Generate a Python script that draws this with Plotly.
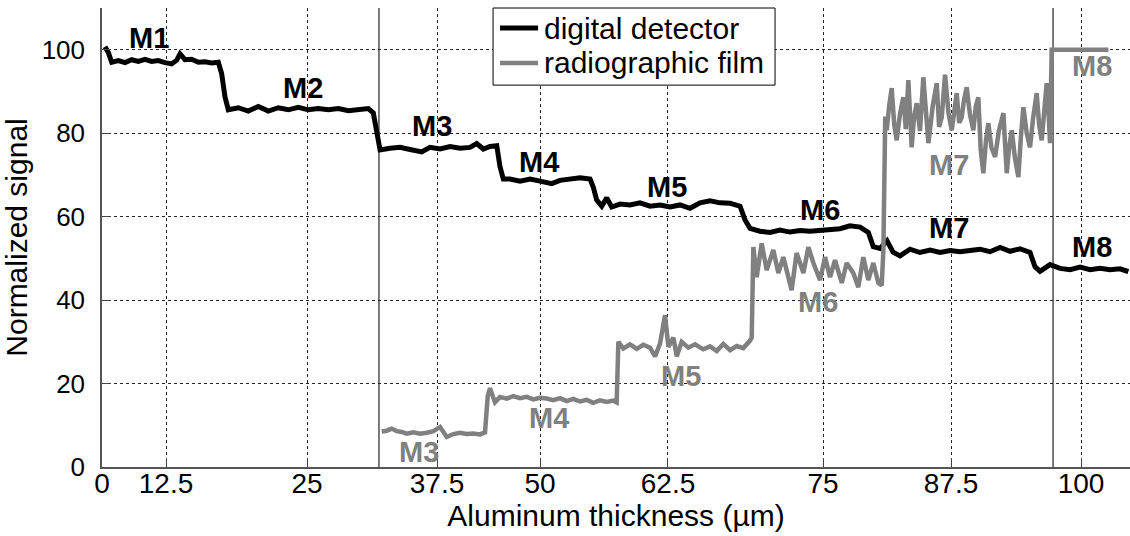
import plotly.graph_objects as go

# ---- data (x in plot units, y normalized signal) ----
det_x = [0.31,0.65,0.99,1.67,2.35,3.03,3.71,4.39,5.07,5.75,6.44,7.12,7.63,7.97,8.48,9.16,9.84,10.52,11.21,11.88,
         12.22,12.56,12.90,13.92,14.94,15.96,16.99,18.01,19.03,20.05,21.07,22.09,23.12,24.14,25.16,26.18,27.20,27.71,
         28.06,28.40,29.42,30.44,31.46,32.65,33.50,34.53,35.55,36.57,37.59,38.27,38.95,39.63,40.32,40.65,40.99,41.67,
         42.70,43.72,44.74,45.93,46.78,47.80,48.83,49.85,50.19,50.52,51.04,51.55,52.06,52.91,53.93,54.95,55.98,57.00,
         58.02,59.04,60.06,61.08,62.10,63.13,64.15,65.17,65.68,66.19,67.21,68.23,69.25,70.28,71.30,72.32,73.34,74.36,
         75.38,76.40,77.43,78.27,78.78,79.47,80.18,80.80,81.51,82.53,83.55,84.58,85.60,86.62,87.64,88.66,89.68,90.70,
         91.73,92.75,93.77,94.79,95.30,95.81,96.83,97.85,98.88,99.90,100.92,101.94,102.96,103.98,104.83]
det_y = [100.7,99.3,97.0,97.4,96.9,97.6,97.2,97.7,97.2,97.4,96.9,96.6,97.5,99.0,97.6,97.7,97.0,97.1,96.8,97.0,
         94.3,88.7,85.6,86.1,85.3,86.4,85.3,86.1,85.6,86.2,85.6,85.9,85.6,85.9,85.4,85.6,85.9,84.9,
         80.7,76.0,76.4,76.6,76.1,75.5,76.6,76.2,76.8,76.4,76.6,77.5,76.2,76.8,77.0,72.0,69.0,69.0,
         68.5,69.0,68.5,67.9,68.7,69.0,69.3,69.0,67.0,64.0,62.5,64.5,62.3,63.0,62.8,63.3,62.5,62.8,
         62.3,62.8,62.0,63.3,63.8,63.3,63.2,62.5,59.2,57.2,56.5,56.2,56.8,56.3,56.7,56.5,56.8,56.8,
         57.1,57.8,57.5,56.2,52.8,52.4,54.2,51.5,50.6,52.2,51.4,52.0,51.4,51.9,51.6,51.9,52.2,51.6,
         52.6,51.7,52.3,51.4,48.0,46.9,48.5,47.6,47.3,47.9,47.3,47.6,47.3,47.5,46.8]

film_x = [28.57,29.08,29.59,30.10,30.61,31.12,31.80,32.48,33.17,33.84,34.53,35.21,35.88,36.57,37.25,37.93,38.61,39.12,
          39.40,39.63,40.14,40.65,41.34,42.01,42.70,43.38,44.06,44.74,45.42,46.10,46.78,47.47,48.14,48.83,49.51,50.18,
          50.87,51.55,52.23,52.57,52.74,53.25,53.93,54.62,55.29,55.98,56.49,57.00,57.51,57.85,58.36,58.70,59.21,59.89,
          60.57,61.42,62.10,62.79,63.46,64.15,64.83,65.51,66.19,66.36,66.53,66.87,67.38,67.89,68.57,69.08,69.59,70.44,
          70.95,71.64,72.15,72.66,73.34,73.85,74.36,74.87,75.56,76.06,76.74,77.25,77.76,78.27,78.78,79.30,79.64,79.81,
          80.00,80.15,80.40,80.66,80.92,81.17,81.50,81.85,82.10,82.36,82.70,82.95,83.22,83.55,83.89,84.15,84.41,84.85,
          85.26,85.50,85.77,86.11,86.45,86.79,87.05,87.30,87.55,87.81,88.05,88.32,88.65,89.00,89.25,89.51,89.75,90.02,
          90.30,90.53,90.85,91.22,91.60,92.07,92.25,92.41,92.65,92.92,93.25,93.60,93.85,94.11,94.45,94.79,95.10,95.47,
          95.72,95.98,96.25,96.49,96.70,96.83,97.00,102.80]
film_y = [8.5,8.7,9.2,8.6,8.4,8.0,8.3,8.0,8.2,8.6,9.6,7.2,7.9,8.2,7.9,8.0,7.8,8.3,
          17.0,18.9,15.5,16.8,16.4,17.0,16.5,16.8,16.2,16.6,16.4,16.0,16.5,15.8,16.3,15.7,16.1,15.4,
          16.0,15.6,15.9,15.5,30.0,28.4,29.4,28.3,29.3,28.6,26.5,29.6,36.4,28.8,31.0,26.5,30.0,28.6,
          29.4,28.2,28.9,27.8,29.5,28.0,29.0,28.5,30.3,31.0,52.7,45.5,53.6,47.2,52.0,46.5,50.3,42.4,
          51.3,46.5,52.7,48.9,44.8,50.3,45.5,49.6,44.1,48.9,46.5,43.1,50.3,44.8,48.9,44.1,43.5,52.0,
          84.0,80.7,86.5,90.8,82.0,78.3,84.5,88.6,81.0,92.7,76.6,84.0,87.2,80.5,93.4,84.0,77.6,86.5,
          92.0,81.5,83.8,94.0,85.0,80.7,86.0,89.6,82.5,83.8,88.0,91.0,84.5,80.7,86.5,88.6,76.0,70.4,
          78.5,82.4,76.5,74.3,80.5,84.8,77.0,70.4,76.5,80.7,74.0,69.5,79.0,86.2,80.0,76.6,83.5,89.6,
          82.0,78.3,85.5,92.0,84.0,77.6,100.0,100.0]

tick_pos = [0, 6.54, 20.94, 34.22, 44.74, 57.81, 73.65, 86.72, 100.0]
tick_text = ["0", "12.5", "25", "37.5", "50", "62.5", "75", "87.5", "100"]
marker_lines_x = [28.29, 97.14]

det_labels = ["M1", "M2", "M3", "M4", "M5", "M6", "M7", "M8"]
det_label_x = [4.8, 20.5, 33.7, 44.6, 57.7, 73.3, 86.5, 101.1]
det_label_y = [102.8, 90.8, 81.7, 73.1, 67.1, 61.6, 57.2, 52.7]
film_labels = ["M3", "M4", "M5", "M6", "M7", "M8"]
film_label_x = [32.4, 45.7, 59.1, 73.1, 86.5, 101.1]
film_label_y = [3.6, 11.7, 21.8, 39.5, 72.3, 96.0]

series_names = ["digital detector", "radiographic film"]

BLACK = "#000000"
GREY = "#808080"
FONT = "Liberation Sans, Arial, sans-serif"

fig = go.Figure()
fig.add_trace(go.Scatter(x=det_x, y=det_y, mode="lines", name=series_names[0],
                         line=dict(color=BLACK, width=5), showlegend=False))
fig.add_trace(go.Scatter(x=film_x, y=film_y, mode="lines", name=series_names[1],
                         line=dict(color=GREY, width=4.5), showlegend=False))

for xv in marker_lines_x:
    fig.add_shape(type="line", xref="x", yref="paper", x0=xv, x1=xv, y0=0, y1=1,
                  line=dict(color="#222222", width=1.2), layer="below")

for t, xv, yv in zip(det_labels, det_label_x, det_label_y):
    fig.add_annotation(x=xv, y=yv, text="<b>%s</b>" % t, showarrow=False,
                       font=dict(family=FONT, size=29, color=BLACK))
for t, xv, yv in zip(film_labels, film_label_x, film_label_y):
    fig.add_annotation(x=xv, y=yv, text="<b>%s</b>" % t, showarrow=False,
                       font=dict(family=FONT, size=29, color=GREY))

# ---- legend box (drawn as shapes + text, paper coordinates) ----
fig.add_shape(type="rect", xref="paper", yref="paper", x0=0.3804, x1=0.6547, y0=0.832, y1=1.0,
              line=dict(color="black", width=1), fillcolor="white", layer="above")
for name, col, w, yp in zip(series_names, [BLACK, GREY], [5, 4.5], [0.9564, 0.8802]):
    fig.add_shape(type="line", xref="paper", yref="paper", x0=0.3872, x1=0.4242, y0=yp, y1=yp,
                  line=dict(color=col, width=w), layer="above")
    fig.add_annotation(xref="paper", yref="paper", x=0.4280, y=yp, text=name, showarrow=False,
                       xanchor="left", yanchor="middle",
                       font=dict(family=FONT, size=30, color="black"))

fig.update_layout(
    width=1130, height=536,
    margin=dict(l=102, r=0, t=8, b=69),
    paper_bgcolor="white", plot_bgcolor="white",
    font=dict(family=FONT, color="black"),
    showlegend=False,
    xaxis=dict(range=[0, 105.0], tickmode="array", tickvals=tick_pos, ticktext=tick_text,
               showgrid=True, gridcolor="#222222", gridwidth=1, griddash="dot",
               showline=True, linecolor="#555555", linewidth=1.5,
               ticks="inside", ticklen=9, tickcolor="#444444",
               tickfont=dict(family=FONT, size=28, color="black"),
               ticklabelstandoff=-9,
               title=dict(text="Aluminum thickness (µm)", font=dict(family=FONT, size=30, color="black"),
                          standoff=6),
               zeroline=False),
    yaxis=dict(range=[0, 110], tickmode="array", tickvals=[0, 20, 40, 60, 80, 100],
               showgrid=True, gridcolor="#222222", gridwidth=1, griddash="dot",
               showline=True, linecolor="#555555", linewidth=1.5,
               ticks="inside", ticklen=9, tickcolor="#444444",
               tickfont=dict(family=FONT, size=26, color="black"),
               ticklabelstandoff=10,
               title=dict(text="Normalized signal", font=dict(family=FONT, size=30, color="black"),
                          standoff=6),
               zeroline=False),
)

fig.write_html("out.html")
